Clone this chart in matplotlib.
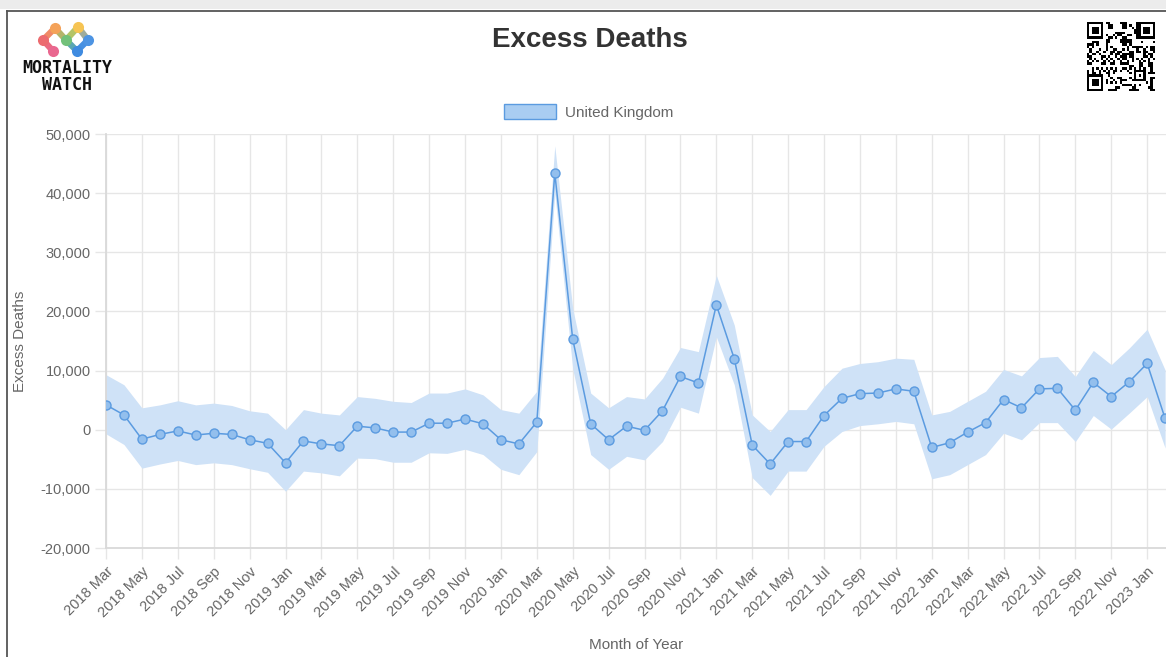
import matplotlib
matplotlib.use("Agg")
import matplotlib.pyplot as plt
import numpy as np
from matplotlib.patches import Patch
from matplotlib.ticker import FuncFormatter

plt.rcParams['font.family'] = ['Liberation Sans', 'DejaVu Sans']

# Data (monthly excess deaths, United Kingdom, 2018 Mar .. 2023 Feb)
month_names = ['Jan', 'Feb', 'Mar', 'Apr', 'May', 'Jun',
               'Jul', 'Aug', 'Sep', 'Oct', 'Nov', 'Dec']
start_year, start_month = 2018, 3
n_months = 60
labels = []
for k in range(n_months):
    m = start_month - 1 + k
    labels.append('%d %s' % (start_year + m // 12, month_names[m % 12]))

excess = [4200, 2500, -1600, -800, -200, -900, -600, -800, -1700, -2300,
          -5600, -1900, -2400, -2700, 600, 300, -400, -400, 1100, 1100, 1800, 1000,
          -1700, -2400, 1300, 43400, 15300, 1000, -1700, 600, -100, 3200, 9000, 7900,
          21100, 12000, -2600, -5800, -2000, -2000, 2400, 5300, 6100, 6200, 6900, 6500,
          -3000, -2200, -400, 1200, 5100, 3700, 6900, 7000, 3300, 8000, 5600, 8100,
          11200, 1900]
upper = [9300, 7600, 3700, 4200, 4900, 4200, 4500, 4100, 3200, 2800,
         0, 3400, 2800, 2500, 5600, 5300, 4800, 4600, 6200, 6200, 6900, 5900,
         3400, 2800, 6500, 48000, 20500, 6200, 3700, 5600, 5200, 8700, 13900, 13200,
         26100, 17700, 2500, -300, 3400, 3400, 7300, 10400, 11200, 11500, 12100, 11900,
         2500, 3100, 4800, 6500, 10200, 9100, 12200, 12400, 9000, 13400, 11000, 13800,
         17000, 10100]
lower = [-700, -2500, -6500, -5800, -5200, -5900, -5600, -5900, -6600, -7200,
         -10400, -7000, -7300, -7800, -4800, -4900, -5500, -5500, -3900, -4000, -3300, -4200,
         -6700, -7600, -3700, 40000, 10300, -4200, -6700, -4500, -5100, -2000, 3800, 2800,
         15700, 7600, -8100, -11100, -7000, -7000, -2800, -300, 700, 1000, 1400, 1000,
         -8300, -7600, -5900, -4200, -600, -1700, 1200, 1200, -2000, 2400, 100, 2800,
         5600, -3100]

W, H = 1166, 657
fig = plt.figure(figsize=(W / 100, H / 100), dpi=100)
fig.patch.set_facecolor('white')

# decoration layer in pixel coordinates (screenshot frame, logo, QR)
deco = fig.add_axes([0, 0, 1, 1])
deco.set_xlim(0, W)
deco.set_ylim(H, 0)
deco.axis('off')
deco.axhspan(0, 9, color='#ececec', lw=0)
deco.plot([7, W], [10.5, 10.5], color='#555555', lw=1.3)
deco.plot([7, 7], [10.5, H], color='#555555', lw=1.3)

# logo
nodes = {'o': (55, 28), 'y': (78, 27), 'r': (43, 40), 'g': (66, 40),
         'b': (88, 40), 'p': (53, 51), 'c': (77, 51)}
cols = {'o': '#f4a259', 'y': '#f6c453', 'r': '#ec6b6f', 'g': '#72c17a',
        'b': '#4d94e3', 'p': '#e9678f', 'c': '#3f8be0'}
edges = [('o', 'r', '#f08a66'), ('r', 'p', '#ea6a80'), ('o', 'g', '#b4b46a'),
         ('y', 'g', '#b4c467'), ('g', 'c', '#5aa6b2'), ('y', 'b', '#9fac9c'),
         ('b', 'c', '#4690e2')]
for a, b, c in edges:
    deco.plot([nodes[a][0], nodes[b][0]], [nodes[a][1], nodes[b][1]],
              color=c, lw=4.5, solid_capstyle='round')
for k, (x, y) in nodes.items():
    deco.plot(x, y, 'o', color=cols[k], ms=8, mec='none')
deco.text(67, 68, 'MORTALITY', ha='center', va='center', fontsize=12,
          fontweight='heavy', family='DejaVu Sans Mono', color='#111111')
deco.text(67, 85, 'WATCH', ha='center', va='center', fontsize=12,
          fontweight='heavy', family='DejaVu Sans Mono', color='#111111')

# QR-like block (decoration only)
n = 29
ii, jj = np.meshgrid(np.arange(n), np.arange(n), indexing='ij')
qr = (((ii * ii * 3 + jj * 7 + ii * jj * 5 + (ii ^ jj)) % 7) < 3).astype(float)
for (r0, c0) in [(0, 0), (0, n - 7), (n - 7, 0)]:
    qr[r0:r0 + 8 if r0 == 0 else r0 + 7, c0:c0 + 8 if c0 == 0 else c0 + 7] = 0
    qr[r0:r0 + 7, c0:c0 + 7] = 1
    qr[r0 + 1:r0 + 6, c0 + 1:c0 + 6] = 0
    qr[r0 + 2:r0 + 5, c0 + 2:c0 + 5] = 1
qr[n - 9:n - 4, n - 9:n - 4] = 1
qr[n - 8:n - 5, n - 8:n - 5] = 0
qr[n - 7, n - 7] = 1
deco.imshow(1 - qr, cmap='gray', extent=[1087, 1155, 91, 22],
            interpolation='nearest', aspect='auto', vmin=0, vmax=1)
deco.set_xlim(0, W)
deco.set_ylim(H, 0)

# main chart
ax = fig.add_axes([106 / W, 109 / H, 1060 / W, 414 / H])
x = np.arange(n_months)
grid_c = '#e6e6e6'
ax.fill_between(x, lower, upper, color='#cfe2f7', lw=0, zorder=2)
ax.plot(x, excess, color='#5b9be0', lw=1.1, zorder=3,
        marker='o', ms=6.5, mfc='#93bfed', mec='#5b9be0', mew=1.0)

ax.set_xlim(0, 59.05)
ax.set_ylim(-20000, 50000)
ax.set_yticks(np.arange(-20000, 50001, 10000))
ax.yaxis.set_major_formatter(FuncFormatter(lambda v, p: '{:,}'.format(int(v))))
tick_idx = np.arange(0, n_months, 2)
ax.set_xticks(tick_idx)
ax.set_xticklabels([labels[i] for i in tick_idx], rotation=45, ha='right',
                   rotation_mode='anchor')
ax.grid(True, color=grid_c, lw=1, zorder=0)
ax.tick_params(axis='both', colors=grid_c, length=8, width=1,
               labelcolor='#666666', labelsize=10.5, pad=3)
ax.tick_params(axis='x', pad=4)
for s in ['top', 'right']:
    ax.spines[s].set_visible(False)
for s in ['left', 'bottom']:
    ax.spines[s].set_color('#d9d9d9')
    ax.spines[s].set_linewidth(1.3)

fig.text(590 / W, 1 - 40 / H, 'Excess Deaths', ha='center', va='center',
         fontsize=20, fontweight='bold', color='#333333')
fig.text(20 / W, 1 - 341 / H, 'Excess Deaths', ha='center', va='center',
         rotation=90, fontsize=11, color='#666666')
fig.text(636 / W, 1 - 645 / H, 'Month of Year', ha='center', va='center',
         fontsize=11, color='#666666')

handle = Patch(facecolor='#a9cdf2', edgecolor='#5b9be0', lw=1)
fig.legend(handles=[handle], labels=['United Kingdom'], loc='center',
           bbox_to_anchor=(589 / W, 1 - 112 / H), frameon=False,
           fontsize=11, labelcolor='#666666', handlelength=3.4,
           handleheight=1.1, handletextpad=0.6)

fig.savefig('out.png', dpi=100)
